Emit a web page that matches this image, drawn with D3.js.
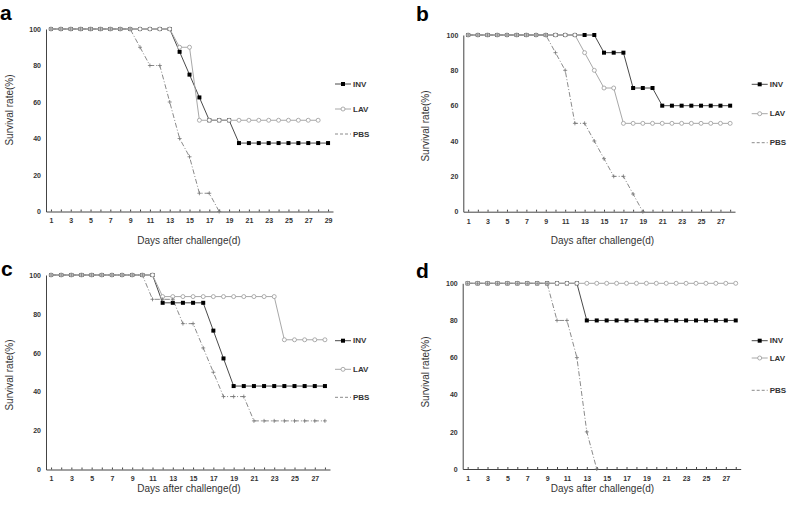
<!DOCTYPE html>
<html>
<head>
<meta charset="utf-8">
<script src="https://cdn.jsdelivr.net/npm/d3@7"></script>
<style>
  body { margin: 0; background: #fff; }
  svg { display: block; font-family: Arial, "Liberation Sans", sans-serif; }
  .tick text { font-size: 7px; font-weight: bold; fill: #333; }
  .domain { stroke: #444; }
  .tick line { stroke: #444; }
</style>
</head>
<body>
<div id="chart"></div>
<script>
// series values, one entry per day starting at day 1
const seriesNames = ['INV', 'LAV', 'PBS'];

const a_INV = [100,100,100,100,100,100,100,100,100,100,100,100,100,87.5,75,62.5,50,50,50,37.5,37.5,37.5,37.5,37.5,37.5,37.5,37.5,37.5,37.5];
const a_LAV = [100,100,100,100,100,100,100,100,100,100,100,100,100,90,90,50,50,50,50,50,50,50,50,50,50,50,50,50];
const a_PBS = [100,100,100,100,100,100,100,100,100,90,80,80,60,40,30,10,10,0];

const b_INV = [100,100,100,100,100,100,100,100,100,100,100,100,100,100,90,90,90,70,70,70,60,60,60,60,60,60,60,60];
const b_LAV = [100,100,100,100,100,100,100,100,100,100,100,100,90,80,70,70,50,50,50,50,50,50,50,50,50,50,50,50];
const b_PBS = [100,100,100,100,100,100,100,100,100,90,80,50,50,40,30,20,20,10,0];

const c_INV = [100,100,100,100,100,100,100,100,100,100,100,85.7,85.7,85.7,85.7,85.7,71.4,57.1,42.9,42.9,42.9,42.9,42.9,42.9,42.9,42.9,42.9,42.9];
const c_LAV = [100,100,100,100,100,100,100,100,100,100,100,88.9,88.9,88.9,88.9,88.9,88.9,88.9,88.9,88.9,88.9,88.9,88.9,66.7,66.7,66.7,66.7,66.7];
const c_PBS = [100,100,100,100,100,100,100,100,100,100,87.5,87.5,87.5,75,75,62.5,50,37.5,37.5,37.5,25,25,25,25,25,25,25,25];

const d_INV = [100,100,100,100,100,100,100,100,100,100,100,100,80,80,80,80,80,80,80,80,80,80,80,80,80,80,80,80];
const d_LAV = [100,100,100,100,100,100,100,100,100,100,100,100,100,100,100,100,100,100,100,100,100,100,100,100,100,100,100,100];
const d_PBS = [100,100,100,100,100,100,100,100,100,80,80,60,20,0];

const yTicks = [0, 20, 40, 60, 80, 100];
const xTicks29 = [1,3,5,7,9,11,13,15,17,19,21,23,25,27,29];
const xTicks27 = [1,3,5,7,9,11,13,15,17,19,21,23,25,27];

const W = 787, H = 505;

const panels = [
  {letter: 'a', data: [a_INV, a_LAV, a_PBS], ticks: xTicks29, nDays: 29, dMax: 29.5,
   x0: 46, x1: 333, y0: 211.5, y1: 29, lt: [0, 20],
   leg: {x: 335, y: [84, 109, 134]}, xt: [189, 240], yt: [9.5, 110]},
  {letter: 'b', data: [b_INV, b_LAV, b_PBS], ticks: xTicks27, nDays: 28, dMax: 28.5,
   x0: 463.3, x1: 735, y0: 211.7, y1: 35, lt: [416, 21],
   leg: {x: 751.7, y: [84.3, 113.7, 142.7]}, xt: [602.5, 240.7], yt: [425, 126]},
  {letter: 'c', data: [c_INV, c_LAV, c_PBS], ticks: xTicks27, nDays: 28, dMax: 28.5,
   x0: 46, x1: 330, y0: 469.5, y1: 275, lt: [1, 276],
   leg: {x: 335, y: [340.7, 369.3, 397.3]}, xt: [189, 488], yt: [9.5, 375]},
  {letter: 'd', data: [d_INV, d_LAV, d_PBS], ticks: xTicks27, nDays: 28, dMax: 28.5,
   x0: 462.7, x1: 740.7, y0: 469, y1: 283.3, lt: [416, 278],
   leg: {x: 751.7, y: [340.7, 358, 390.3]}, xt: [602.5, 488.3], yt: [425, 372]}
];

const style = [
  {stroke: '#4a4a4a', dash: null},
  {stroke: '#a8a8a8', dash: null},
  {stroke: '#8a8a8a', dash: '5,2,1,2'}
];

const svg = d3.select('#chart').append('svg')
  .attr('width', W).attr('height', H);

function marker(g, k, px, py) {
  if (k === 0) {
    g.append('rect')
      .attr('x', px - 2).attr('y', py - 2)
      .attr('width', 4).attr('height', 4)
      .attr('fill', '#000');
  } else if (k === 1) {
    g.append('circle')
      .attr('cx', px).attr('cy', py).attr('r', 2)
      .attr('fill', '#fff').attr('stroke', '#999').attr('stroke-width', 0.8);
  } else {
    g.append('path')
      .attr('d', `M${px - 2},${py}H${px + 2}M${px},${py - 2}V${py + 2}`)
      .attr('stroke', '#777').attr('stroke-width', 0.8);
  }
}

panels.forEach(p => {
  const g = svg.append('g');

  let x = d3.scaleLinear().domain([0.5, p.dMax]).range([p.x0, p.x1]);
  let y = d3.scaleLinear().domain([0, 100]).range([p.y0, p.y1]);

  // x axis: ticks every day, labels on odd days
  let allDays = d3.range(1, p.nDays + 1);
  g.append('g')
    .attr('transform', `translate(0, ${p.y0})`)
    .call(d3.axisBottom(x).tickValues(allDays)
      .tickFormat(d => p.ticks.includes(d) ? d : '')
      .tickSizeInner(-2).tickSizeOuter(0).tickPadding(7));

  g.append('g')
    .attr('transform', `translate(${p.x0}, 0)`)
    .call(d3.axisLeft(y).tickValues(yTicks).tickSizeInner(0).tickSizeOuter(0).tickPadding(5));

  // lines
  p.data.forEach((vals, k) => {
    let line = d3.line().x((d, i) => x(i + 1)).y(d => y(d));
    g.append('path')
      .datum(vals)
      .attr('fill', 'none')
      .attr('stroke', style[k].stroke)
      .attr('stroke-width', 1)
      .attr('stroke-dasharray', style[k].dash)
      .attr('d', line);
  });
  // markers, INV first so LAV sits on top
  p.data.forEach((vals, k) => {
    vals.forEach((v, i) => marker(g, k, x(i + 1), y(v)));
  });

  // legend
  seriesNames.forEach((name, k) => {
    let ly = p.leg.y[k];
    g.append('line')
      .attr('x1', p.leg.x).attr('x2', p.leg.x + 16)
      .attr('y1', ly).attr('y2', ly)
      .attr('stroke', style[k].stroke)
      .attr('stroke-dasharray', k === 2 ? '3,2' : null);
    if (k < 2) marker(g, k, p.leg.x + 8, ly);
    g.append('text')
      .attr('x', p.leg.x + 18).attr('y', ly)
      .attr('dominant-baseline', 'central')
      .attr('font-size', 8).attr('font-weight', 'bold').attr('fill', '#333')
      .text(name);
  });

  // titles
  g.append('text')
    .attr('x', p.xt[0]).attr('y', p.xt[1])
    .attr('text-anchor', 'middle').attr('dominant-baseline', 'central')
    .attr('font-size', 10).attr('fill', '#333')
    .text('Days after challenge(d)');
  g.append('text')
    .attr('transform', `translate(${p.yt[0]}, ${p.yt[1]}) rotate(-90)`)
    .attr('text-anchor', 'middle').attr('dominant-baseline', 'central')
    .attr('font-size', 10).attr('fill', '#333')
    .text('Survival rate(%)');

  g.append('text')
    .attr('x', p.lt[0]).attr('y', p.lt[1])
    .attr('font-size', 21).attr('font-weight', 'bold')
    .attr('font-family', '"Liberation Sans", Arial, sans-serif')
    .attr('fill', '#000')
    .text(p.letter);
});
</script>
</body>
</html>
